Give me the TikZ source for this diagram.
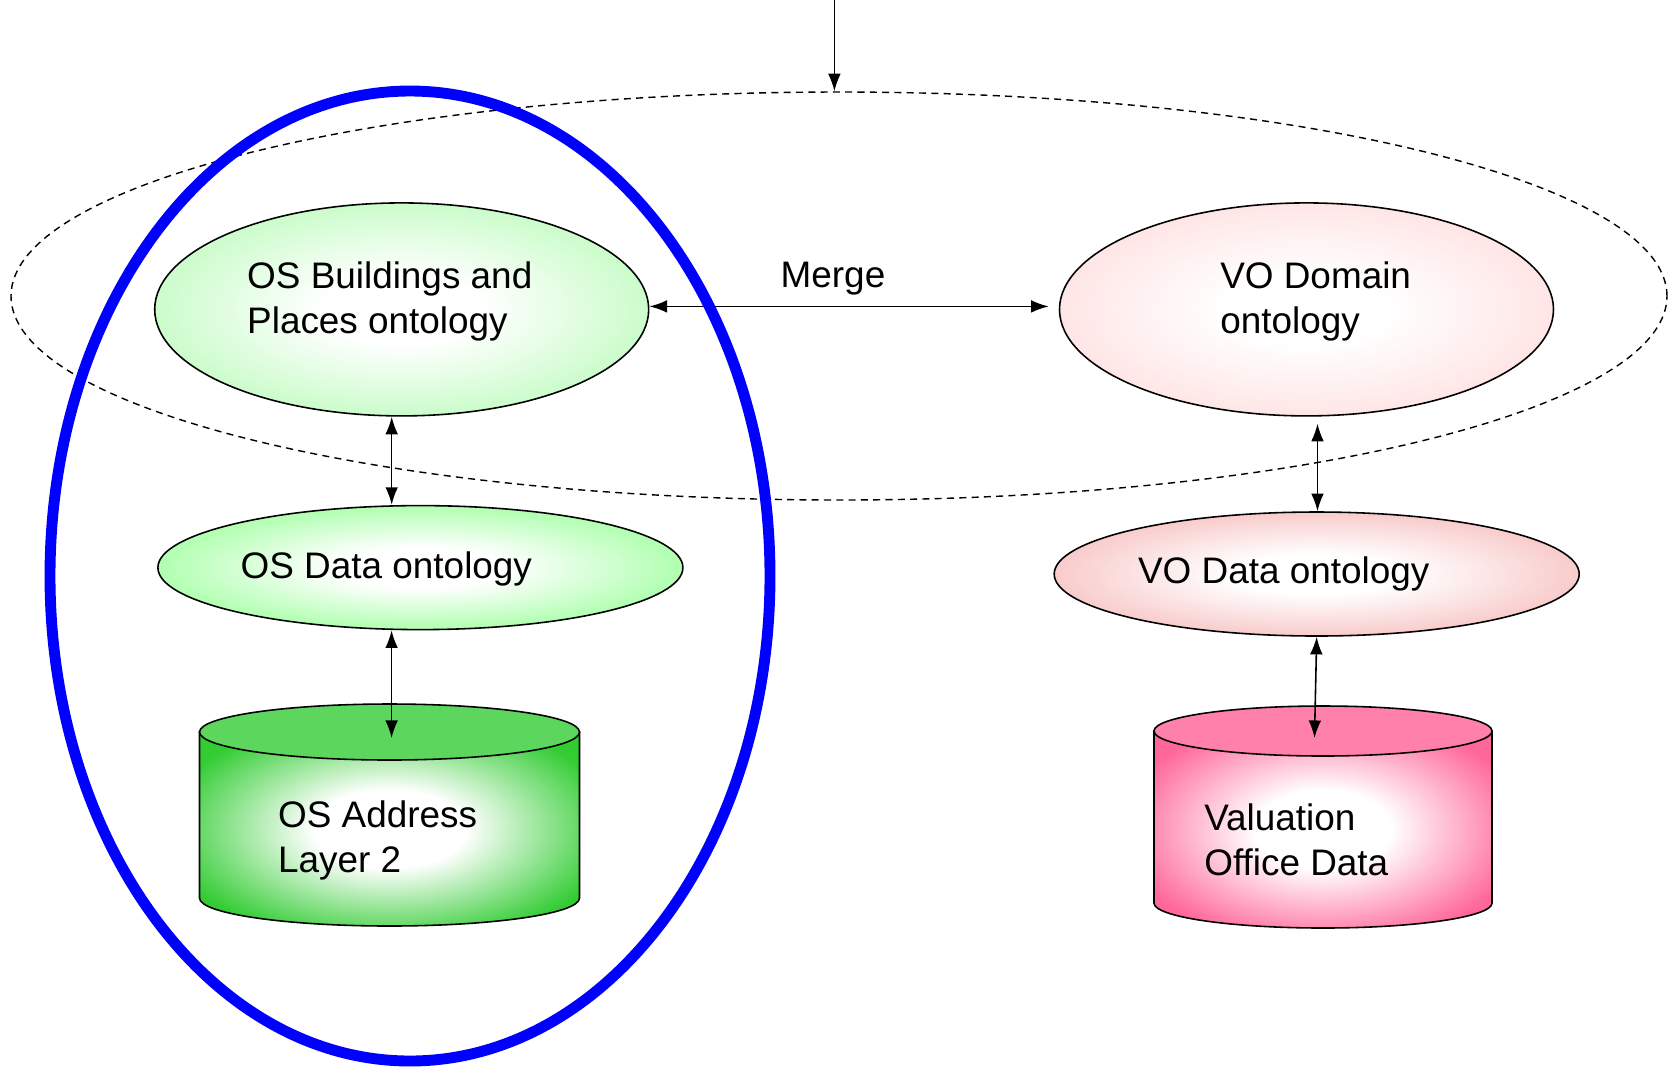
\documentclass[tikz,border=0pt]{standalone}
\usepackage{fontspec}
\setmainfont{Liberation Sans}
\usetikzlibrary{shapes.geometric,arrows.meta}

\definecolor{bldgreen}{HTML}{C8FCC8}
\definecolor{datagreen}{HTML}{99FF99}
\definecolor{drumgreen}{HTML}{33CC33}
\definecolor{drumgreentop}{HTML}{5CD65C}
\definecolor{dompink}{HTML}{FFE4E4}
\definecolor{datapink}{HTML}{F7BCBC}
\definecolor{drumpink}{HTML}{FF6699}
\definecolor{drumpinktop}{HTML}{FF80AA}

\pgfdeclareradialshading{bldglow}{\pgfpoint{0bp}{0bp}}{color(0bp)=(white); color(8bp)=(white); color(26bp)=(bldgreen); color(50bp)=(bldgreen)}
\pgfdeclareradialshading{dataglow}{\pgfpoint{0bp}{0bp}}{color(0bp)=(white); color(8bp)=(white); color(30bp)=(datagreen); color(50bp)=(datagreen)}
\pgfdeclareradialshading{domglow}{\pgfpoint{0bp}{0bp}}{color(0bp)=(white); color(8bp)=(white); color(26bp)=(dompink); color(50bp)=(dompink)}
\pgfdeclareradialshading{vodataglow}{\pgfpoint{0bp}{0bp}}{color(0bp)=(white); color(8bp)=(white); color(30bp)=(datapink); color(50bp)=(datapink)}
\pgfdeclareradialshading{drumgreenglow}{\pgfpoint{0bp}{0bp}}{color(0bp)=(white); color(10bp)=(white); color(30bp)=(drumgreen); color(50bp)=(drumgreen)}
\pgfdeclareradialshading{drumpinkglow}{\pgfpoint{0bp}{0bp}}{color(0bp)=(white); color(10bp)=(white); color(30bp)=(drumpink); color(50bp)=(drumpink)}

% data store: x, top y, bottom y, x radius, y radius, colour
\newcommand{\drum}[6]{%
  \shade[shading=#6glow, draw, line width=0.45pt]
    (#1-#4,#2) -- (#1-#4,#3) arc[start angle=180, end angle=360, x radius=#4, y radius=#5]
    -- (#1+#4,#2) -- cycle;
  \filldraw[fill=#6top, line width=0.45pt] (#1,#2) ellipse[x radius=#4, y radius=#5];
}

\begin{document}
\begin{tikzpicture}
  \tikzset{
    onto/.style={ellipse, draw, line width=0.45pt, inner sep=0pt},
    txt/.style={anchor=west, align=left, inner sep=0pt, font=\fontsize{10.5}{12.8}\selectfont},
    link/.style={<->, >={Latex[length=5pt,width=3.6pt]}, line width=0.45pt}
  }
  \useasboundingbox (0,0) rectangle (16.73,-10.67);

  \node[ellipse, draw, dashed, dash pattern=on 2pt off 1.5pt, line width=0.4pt,
    minimum width=16.56cm, minimum height=4.08cm] (mergezone) at (8.39,-2.96) {};

  \node[onto, shading=bldglow, minimum width=4.94cm, minimum height=2.13cm] (bld) at (4.017,-3.094) {};
  \node[onto, shading=domglow, minimum width=4.94cm, minimum height=2.13cm] (dom) at (13.065,-3.094) {};
  \node[onto, shading=dataglow, minimum width=5.25cm, minimum height=1.24cm] (osdata) at (4.204,-5.676) {};
  \node[onto, shading=vodataglow, minimum width=5.25cm, minimum height=1.24cm] (vodata) at (13.167,-5.740) {};

  \drum{3.895}{-7.32}{-8.98}{1.90}{0.28}{drumgreen}
  \coordinate (addr) at (3.916,-7.38);
  \drum{13.23}{-7.31}{-9.03}{1.69}{0.25}{drumpink}
  \coordinate (voa) at (13.145,-7.38);

  \node[txt] (bldtxt) at (2.465,-3.01) {OS Buildings and\\Places ontology};
  \node[txt] (domtxt) at (12.196,-3.01) {VO Domain\\ontology};
  \node[txt] (osdatatxt) at (2.40,-5.685) {OS Data ontology};
  \node[txt] (vodatatxt) at (11.374,-5.74) {VO Data ontology};
  \node[txt] (addrtxt) at (2.774,-8.40) {OS Address\\Layer 2};
  \node[txt] (voatxt) at (12.036,-8.40) {Valuation\\Office Data};
  \node[txt, anchor=center] (mergetxt) at (8.33,-2.79) {Merge};

  \coordinate (feed) at (8.344,0);
  \draw[link, <-] (feed |- mergezone.north) -- (feed);
  \draw[link] ([yshift=0.3mm]bld.east) -- ([xshift=-1mm,yshift=0.3mm]dom.west);
  \draw[link] ([xshift=-1mm]bld.south) -- ([xshift=-1mm]bld.south |- osdata.north);
  \draw[link] (osdata.south -| addr) -- (addr);
  \draw[link] ([xshift=1.1mm,yshift=-0.7mm]dom.south) -- ([xshift=1.1mm]dom.south |- vodata.north);
  \draw[link] (vodata.south) -- (voa);

  \node[ellipse, draw=blue, line width=3.1pt, minimum width=7.2cm, minimum height=9.7cm] (osside) at (4.10,-5.76) {};
\end{tikzpicture}
\end{document}
